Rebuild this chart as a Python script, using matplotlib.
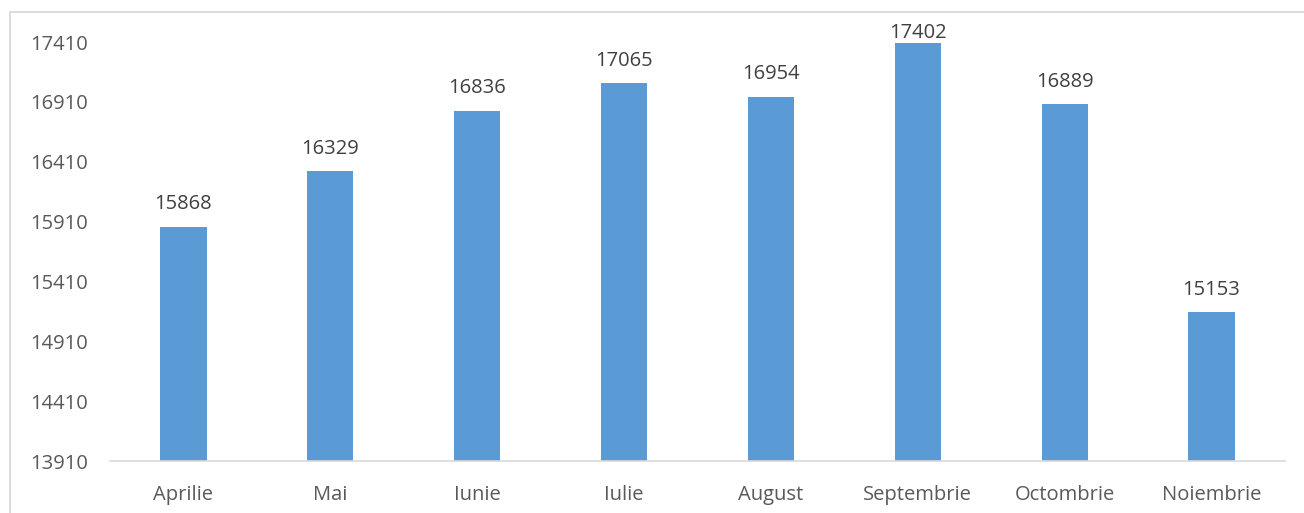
import matplotlib
matplotlib.use('Agg')
import matplotlib.pyplot as plt
from matplotlib.patches import Rectangle

# Data
months = ['Aprilie', 'Mai', 'Iunie', 'Iulie', 'August', 'Septembrie', 'Octombrie', 'Noiembrie']
values = [15868, 16329, 16836, 17065, 16954, 17402, 16889, 15153]
yticks = [13910, 14410, 14910, 15410, 15910, 16410, 16910, 17410]

plt.rcParams['font.family'] = ['Open Sans', 'DejaVu Sans']

fig = plt.figure(figsize=(13.04, 5.13), dpi=100)
ax = fig.add_axes([110 / 1304, 52 / 513, 1175 / 1304, 419 / 513])

x = range(len(months))
bars = ax.bar(x, values, width=0.315, color='#5B9BD5', zorder=2)

for xi, v in zip(x, values):
    # labels near the top get pushed down to stay inside the chart area
    off = 9 if v < 17300 else 0
    ax.annotate(str(v), (xi, v), xytext=(0, off), textcoords='offset points',
                ha='center', va='bottom', fontsize=14.5, color='#404040')

ax.set_xlim(-0.5, len(months) - 0.5)
ax.set_ylim(yticks[0], yticks[-1])
ax.set_yticks(yticks)
ax.set_xticks(list(x))
ax.set_xticklabels(months)
ax.tick_params(axis='both', length=0, labelsize=14.5, colors='#595959')
ax.tick_params(axis='y', pad=16)
ax.tick_params(axis='x', pad=17)

for side in ['top', 'right', 'left']:
    ax.spines[side].set_visible(False)
ax.spines['bottom'].set_color('#d9d9d9')
ax.spines['bottom'].set_linewidth(1.2)

# chart area border (cropped at right and bottom)
fig.patches.append(Rectangle((10 / 1304, -0.1), 1.2, (501 / 513) + 0.1,
                             transform=fig.transFigure, fill=False,
                             edgecolor='#d9d9d9', linewidth=1.3))

fig.savefig('out.png', dpi=100)
